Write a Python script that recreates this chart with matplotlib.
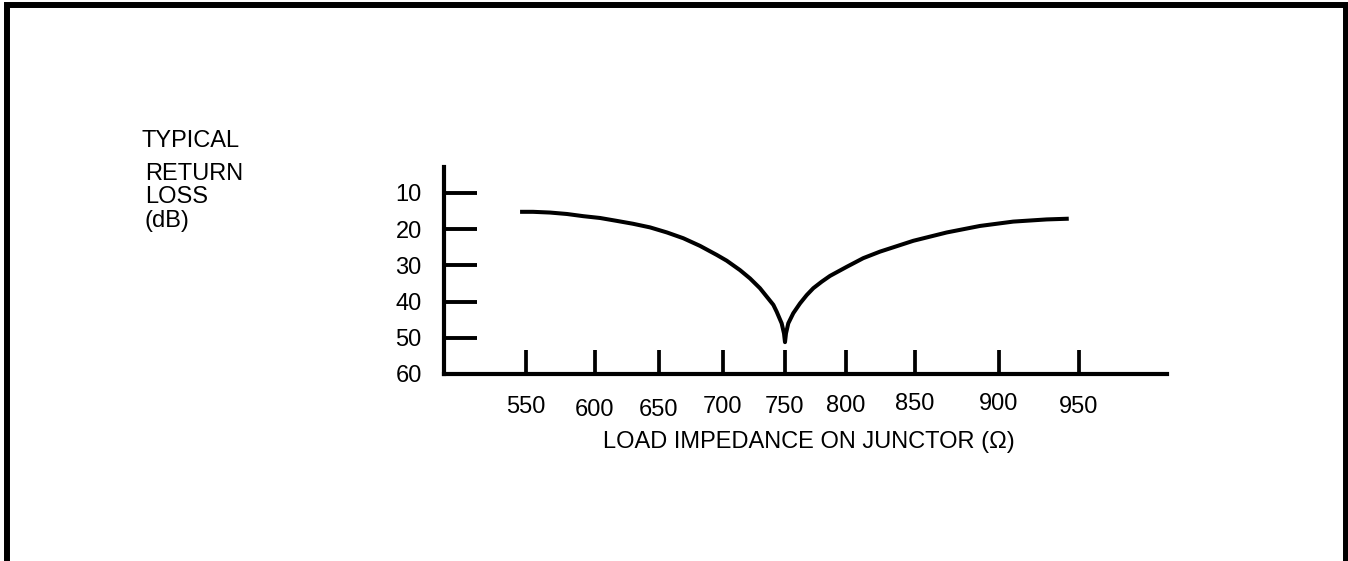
#!/usr/bin/env python3
"""
Typical return loss vs load impedance on junctor
"""

import numpy as np
import matplotlib.pyplot as plt
import matplotlib as mpl
from matplotlib.lines import Line2D
from matplotlib.transforms import ScaledTranslation

mpl.rcParams['font.family'] = 'sans-serif'
mpl.rcParams['font.sans-serif'] = ['Liberation Sans', 'DejaVu Sans']
mpl.rcParams['font.size'] = 17

# ---- data ----
impedance = [545.7, 555.1, 567.4, 579.7, 591.5, 603.9, 617.0, 629.7, 643.0,
             656.2, 669.0, 682.0, 695.1, 703.0, 713.7, 721.8, 729.8, 735.2,
             740.6, 743.3, 747.3, 749.2, 750.0,
             750.8, 752.7, 756.8, 762.3, 767.8, 773.2, 780.1, 786.9, 800.5,
             812.5, 824.6, 848.8, 868.9, 888.7, 908.9, 929.8, 943.6]
return_loss = [15.2, 15.2, 15.4, 15.8, 16.4, 16.9, 17.7, 18.5, 19.5,
               20.9, 22.5, 24.6, 27.1, 28.7, 31.3, 33.6, 36.3, 38.6,
               40.9, 42.8, 46.0, 48.8, 51.2,
               48.8, 46.0, 43.2, 40.5, 38.2, 36.3, 34.5, 32.9, 30.4,
               28.0, 26.2, 23.2, 20.9, 19.1, 17.9, 17.3, 17.1]
x_ticks = [550, 600, 650, 700, 750, 800, 850, 900, 950]
y_ticks = [10, 20, 30, 40, 50, 60]

# the original axis was drawn by hand, ticks are not evenly spaced;
# warp the scale so the ticks land where they were drawn (pixels)
drawn_at = [526, 595, 659, 723, 785, 846, 915, 999, 1079]
label_shift = [0, 3, 3, 0, 0, -1, -3, -3, 0]  # px, tick labels sit a bit uneven
ext_ohm = [400] + x_ticks + [1100]
ext_pos = [drawn_at[0] - 150 * 69 / 50] + drawn_at + [drawn_at[-1] + 150 * 80 / 50]


def fwd(v):
    return np.interp(np.asarray(v, float), ext_ohm, ext_pos)


def inv(p):
    return np.interp(np.asarray(p, float), ext_pos, ext_ohm)


W, H = 1348, 561
fig = plt.figure(figsize=(W / 100, H / 100), dpi=100)

# axes box in pixels: x 444..1167, y 167..374
ax = fig.add_axes([444 / W, 1 - 374 / H, (1167 - 444) / W, (374 - 167) / H])
ax.set_xscale('function', functions=(fwd, inv))
ax.set_xlim(float(inv(444)), float(inv(1167)))
# 10 dB at y=193px, 60 dB at y=374px
px_per_db = (374 - 193) / 50
ax.set_ylim(60, 10 - (193 - 167) / px_per_db)

ax.plot(impedance, return_loss, color='black', lw=2.9,
        solid_capstyle='butt', solid_joinstyle='round')

for side in ['top', 'right']:
    ax.spines[side].set_visible(False)
for side in ['left', 'bottom']:
    ax.spines[side].set_linewidth(3.0)

ax.set_xticks(x_ticks)
ax.set_xticklabels([str(t) for t in x_ticks])
ax.set_yticks(y_ticks)
ax.set_yticklabels([str(t) for t in y_ticks])
ax.tick_params(axis='x', direction='in', length=17, width=2.7, pad=16)
ax.tick_params(axis='y', direction='in', length=24, width=2.8, pad=16)
ax.minorticks_off()

for lab, dy in zip(ax.get_xticklabels(), label_shift):
    lab.set_transform(lab.get_transform() +
                      ScaledTranslation(0, -dy / 100, fig.dpi_scale_trans))

# axis titles, placed as in the drawing
fig.text(142 / W, 1 - 147 / H, 'TYPICAL', ha='left', va='baseline')
fig.text(145 / W, 1 - 180 / H, 'RETURN', ha='left', va='baseline')
fig.text(145 / W, 1 - 203 / H, 'LOSS', ha='left', va='baseline')
fig.text(145 / W, 1 - 227 / H, '(dB)', ha='left', va='baseline')
fig.text(809 / W, 1 - 448 / H, 'LOAD IMPEDANCE ON JUNCTOR (\u03a9)',
         ha='center', va='baseline')

# page frame (open at the bottom)
frame = Line2D([7 / W, 7 / W, 1345.5 / W, 1345.5 / W],
               [-0.05, 1 - 4.5 / H, 1 - 4.5 / H, -0.05],
               transform=fig.transFigure, color='black', lw=4.3,
               solid_joinstyle='miter')
fig.add_artist(frame)

plt.savefig('out.png', dpi=100)
